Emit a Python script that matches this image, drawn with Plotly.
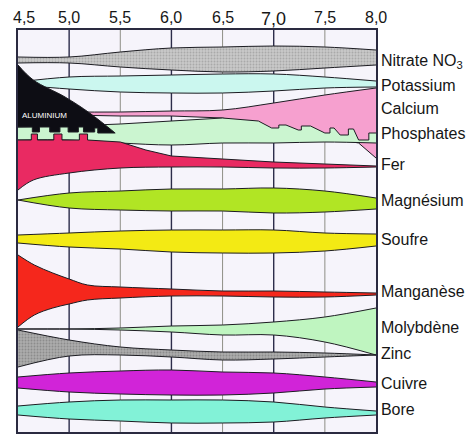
import plotly.graph_objects as go

# pH axis
PH = [4.5, 5.0, 5.5, 6.0, 6.5, 7.0, 7.5, 8.0]
PH_LABELS = ["4,5", "5,0", "5,5", "6,0", "6,5", "7,0", "7,5", "8,0"]

# right-hand labels and their rows
ROW_NAMES = ["Nitrate NO<sub>3</sub>", "Potassium", "Calcium", "Phosphates", "Fer", "Magnésium",
             "Soufre", "Manganèse", "Molybdène", "Zinc", "Cuivre", "Bore"]
ROW_Y = [60, 85, 108, 133, 164, 200, 239, 291, 327, 353, 383, 409]

# band edges (upper = haut, lower = bas)
nitrate_haut = [57, 57, 52, 48, 47, 46, 47, 50]
nitrate_bas = [63, 63, 67, 70, 72, 71, 68, 65]
potassium_haut = [82, 77, 76, 75, 74, 74, 77, 81]
potassium_bas = [85, 89, 92, 93, 93, 91, 88, 87]
calcium_haut = [112, 112, 112, 111, 110, 103, 95, 88]
calcium_ph_bas = [4.5, 5.0, 5.5, 6.0, 6.5, 7.0, 7.5, 7.83, 8.0]
calcium_bas = [115, 115, 116, 116, 118, 130, 137, 143, 158]
phosphates_ph_haut = [4.5, 5.0, 5.5, 5.8, 6.1, 6.5, 6.85, 6.98, 7.05, 7.05, 7.12, 7.24, 7.27, 7.27, 7.36,
                      7.50, 7.55, 7.55, 7.59, 7.65, 7.73, 7.73, 7.78, 7.83, 7.93, 7.93, 8.0]
phosphates_haut = [127, 126, 124, 122, 120, 118, 121, 128, 128, 125, 125, 130, 130, 126, 126,
                   133, 133, 128, 128, 135, 135, 129, 129, 140, 140, 133, 133]
phosphates_bas = [140, 140, 143, 145, 143, 143, 142, 143]
fer_ph_haut = [4.5, 4.63, 4.63, 4.69, 4.69, 4.85, 4.85, 4.93, 4.93, 5.1, 5.1, 5.18, 5.18,
               5.5, 5.75, 6.0, 6.5, 7.0, 7.5, 8.0]
fer_haut = [140, 140, 134, 134, 140, 140, 134, 134, 140, 140, 134, 134, 140,
            142, 150, 156, 159, 162, 164, 166]
fer_ph_bas = [4.5, 4.65, 5.0, 5.5, 6.0, 6.5, 7.0, 7.5, 8.0]
fer_bas = [190, 180, 173, 168, 167, 167, 168, 168, 167]
magnesium_haut = [200, 193, 191, 189, 189, 188, 191, 198]
magnesium_bas = [200, 208, 210, 211, 211, 213, 212, 209]
soufre_haut = [235, 233, 231, 230, 230, 230, 233, 234]
soufre_bas = [243, 247, 249, 252, 253, 253, 251, 246]
manganese_ph = [4.5, 4.66, 4.84, 5.0, 5.18, 5.5, 6.0, 6.5, 7.0, 7.5, 8.0]
manganese_haut = [255, 265, 273, 279, 285, 287, 289, 291, 291, 292, 293]
manganese_bas = [327, 315, 308, 304, 300, 298, 296, 296, 297, 297, 295]
molybdene_haut = [329, 329, 328, 326, 325, 322, 317, 308]
molybdene_bas = [329, 329, 330, 332, 335, 335, 342, 355]
zinc_haut = [330, 340, 347, 350, 352, 352, 353, 355]
zinc_bas = [367, 356, 355, 357, 360, 359, 357, 355]
cuivre_haut = [377, 373, 371, 370, 372, 373, 377, 382]
cuivre_bas = [388, 392, 394, 395, 395, 393, 389, 387]
bore_haut = [406, 402, 400, 400, 400, 402, 407, 411]
bore_bas = [415, 419, 421, 423, 423, 422, 418, 415]

# aluminium toxicity wedge
alu_ph_haut = [4.5, 4.65, 4.96, 5.2, 5.45]
alu_haut = [65, 80, 97, 113, 133]
alu_ph_bas = [4.5, 4.64, 4.64, 4.71, 4.71, 4.81, 4.81, 4.91, 4.91, 4.99, 4.99, 5.09, 5.09,
              5.14, 5.14, 5.25, 5.25, 5.28, 5.28, 5.45]
alu_bas = [127, 127, 132, 132, 127, 127, 132, 132, 127, 127, 132, 132, 127,
           127, 132, 132, 128, 128, 133, 133]

CONTOUR = "#1c1c22"
fig = go.Figure()


def bande(ph_h, haut, ph_b, bas, couleur, forme_h="spline", forme_b="spline", motif=None):
    fig.add_trace(go.Scatter(x=ph_b, y=bas, mode="lines", hoverinfo="skip",
                             line=dict(color=CONTOUR, width=1, shape=forme_b)))
    fig.add_trace(go.Scatter(x=ph_h, y=haut, mode="lines", hoverinfo="skip",
                             fill="tonexty", fillcolor=couleur, fillpattern=motif,
                             line=dict(color=CONTOUR, width=1, shape=forme_h)))


pointille = lambda fg, bg: dict(shape=".", fgcolor=fg, bgcolor=bg, size=3, solidity=0.3)

bande(PH, nitrate_haut, PH, nitrate_bas, "#c2c2c2", motif=pointille("#8a8a8a", "#c8c8c8"))
bande(PH, potassium_haut, PH, potassium_bas, "#cbf7ef")
bande(PH, calcium_haut, calcium_ph_bas, calcium_bas, "#f6a0cf", forme_b="linear")
bande(phosphates_ph_haut, phosphates_haut, PH, phosphates_bas, "#cbf5d0", forme_h="linear")
bande(alu_ph_haut, alu_haut, alu_ph_bas, alu_bas, "#0d0d14", forme_h="spline", forme_b="linear")
bande(fer_ph_haut, fer_haut, fer_ph_bas, fer_bas, "#e92a62", forme_h="linear")
bande(PH, magnesium_haut, PH, magnesium_bas, "#b1e524")
bande(PH, soufre_haut, PH, soufre_bas, "#f3ea14")
bande(manganese_ph, manganese_haut, manganese_ph, manganese_bas, "#f5271c")
bande(PH, molybdene_haut, PH, molybdene_bas, "#bff5c0")
bande(PH, zinc_haut, PH, zinc_bas, "#a4a4a4", motif=pointille("#6e6e6e", "#ababab"))
bande(PH, cuivre_haut, PH, cuivre_bas, "#d124d8")
bande(PH, bore_haut, PH, bore_bas, "#82f2d7")

# vertical grid: whole pH units darker
for v in PH[1:-1]:
    entier = float(v).is_integer()
    fig.add_shape(type="line", x0=v, x1=v, y0=0, y1=1, yref="paper", layer="below",
                  line=dict(color="#2c2c4a" if entier else "#8e8e86", width=1.4 if entier else 1))

# pH labels along the top (first one nudged inside the page, 7,0 drawn larger)
for v, lab in zip(PH, PH_LABELS):
    gros = lab == "7,0"
    fig.add_annotation(x=v, y=1, yref="paper", text=lab, showarrow=False,
                       xanchor="left" if v == PH[0] else "center",
                       xshift=-6 if v == PH[0] else 0,
                       yanchor="bottom", yshift=0 if gros else 3, borderpad=0,
                       font=dict(size=18 if gros else 16))

fig.add_annotation(x=4.76, y=115, text="ALUMINIUM", showarrow=False,
                   font=dict(size=8, color="white", family="Liberation Sans"))

# page body keeps an 8px margin, so the figure is 8px smaller on each axis
fig.update_layout(
    width=466, height=429,
    margin=dict(l=10, r=98, t=22, b=5),
    paper_bgcolor="white", plot_bgcolor="#f6f4fb",
    showlegend=False,
    font=dict(family="Liberation Sans", size=16, color="#161616"),
    xaxis=dict(range=[4.5, 8.0], showticklabels=False, automargin=False,
               showgrid=False, zeroline=False, ticks="", showline=True, mirror=True,
               linecolor="#2a2a40", linewidth=1.5),
    yaxis=dict(range=[432, 30], side="right", tickvals=ROW_Y, ticktext=ROW_NAMES,
               automargin=False, ticklabelstandoff=0,
               showgrid=False, zeroline=False, ticks="", showline=True, mirror=True,
               linecolor="#2a2a40", linewidth=1.5),
)

fig.write_html("out.html")
